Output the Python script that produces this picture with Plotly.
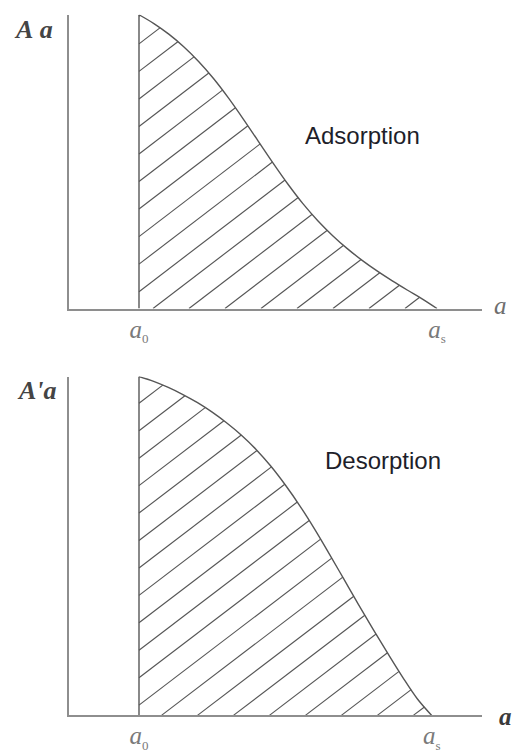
import numpy as np
import plotly.graph_objects as go

# Coverage a, normalised so that a0 = 0 and as = 1, with the curve height A
a_ads = [0.00, 0.05, 0.10, 0.15, 0.20, 0.25, 0.30, 0.35, 0.40, 0.45, 0.50,
         0.55, 0.60, 0.65, 0.70, 0.75, 0.80, 0.85, 0.90, 0.95, 1.00]
A_ads = [1.000, 0.970, 0.934, 0.891, 0.841, 0.783, 0.717, 0.645, 0.570, 0.495, 0.423,
         0.357, 0.299, 0.248, 0.203, 0.163, 0.127, 0.094, 0.063, 0.033, 0.000]

a_des = [0.00, 0.05, 0.10, 0.15, 0.20, 0.25, 0.30, 0.35, 0.40, 0.45, 0.50,
         0.55, 0.60, 0.65, 0.70, 0.75, 0.80, 0.85, 0.90, 0.95, 1.00]
A_des = [1.000, 0.986, 0.968, 0.947, 0.923, 0.895, 0.863, 0.827, 0.785, 0.736, 0.680,
         0.618, 0.550, 0.477, 0.402, 0.327, 0.254, 0.183, 0.114, 0.050, 0.000]

tick_vals = [0, 1]
tick_text = ["<i>a</i><sub><span style='font-size:13px'>0</span></sub>",
             "<i>a</i><sub><span style='font-size:13px'>s</span></sub>"]

W, H = 514, 753
CURVE = "#565656"
AXIS = "#8e8e8e"
SERIF = "Liberation Serif"
SANS = "Liberation Sans"


def hatch(a, A, slope, step, offset):
    """Parallel hatch segments from the base / left edge up to the curve."""
    grid = np.linspace(0.0, 1.0, 4001)
    top = np.interp(grid, a, A)
    xs, ys = [], []
    for k in range(-40, 40):
        c = offset + k * step
        if c >= 1:
            continue
        x0 = max(0.0, c)
        y0 = slope * (x0 - c)
        if y0 >= np.interp(x0, a, A):
            continue
        line = slope * (grid - c)
        hit = np.where((grid > x0) & (line >= top))[0]
        if len(hit) == 0:
            continue
        i = hit[0]
        xs += [x0, grid[i], None]
        ys += [y0, line[i], None]
    return xs, ys


fig = go.Figure()

panels = [
    # (a, A, axis suffix, hatch slope, hatch step, hatch offset)
    (a_ads, A_ads, "", 0.776, 0.1208, 0.047),
    (a_des, A_des, "2", 0.659, 0.1229, 0.0769),
]

for a, A, sfx, slope, step, off in panels:
    xr, yr = "x" + sfx, "y" + sfx
    hx, hy = hatch(a, A, slope, step, off)
    fig.add_trace(go.Scatter(x=hx, y=hy, mode="lines", xaxis=xr, yaxis=yr,
                             line=dict(color=CURVE, width=1.15), hoverinfo="skip"))
    fig.add_trace(go.Scatter(x=[0, 0], y=[0, A[0]], mode="lines", xaxis=xr, yaxis=yr,
                             line=dict(color=CURVE, width=1.4), hoverinfo="skip"))
    fig.add_trace(go.Scatter(x=a, y=A, mode="lines", xaxis=xr, yaxis=yr,
                             line=dict(color=CURVE, width=1.4, shape="spline", smoothing=1.0),
                             hoverinfo="skip"))


def xdom(l, r):
    return [l / W, r / W]


def ydom(b, t):
    return [1 - b / H, 1 - t / H]


common_x = dict(showline=True, linecolor=AXIS, linewidth=2, showgrid=False, zeroline=False,
                ticks="", tickvals=tick_vals, ticktext=tick_text, ticklabelstandoff=-3,
                tickfont=dict(family=SERIF, size=25, color="#7a7a7a"))
common_y = dict(showline=True, linecolor=AXIS, linewidth=2, showgrid=False, zeroline=False,
                ticks="", showticklabels=False, range=[0, 1])

fig.update_layout(
    width=W, height=H,
    margin=dict(l=0, r=0, t=0, b=0),
    paper_bgcolor="white", plot_bgcolor="white",
    showlegend=False,
    xaxis=dict(domain=xdom(69, 482), range=[-70 / 298, 343 / 298], anchor="y", **common_x),
    yaxis=dict(domain=ydom(313.5, 15), anchor="x", **common_y),
    xaxis2=dict(domain=xdom(69, 482), range=[-70 / 292.7, 343 / 292.7], anchor="y2", **common_x),
    yaxis2=dict(domain=ydom(727, 382.7), anchor="x2", **common_y),
)


def px(x, y):
    return dict(x=x / W, y=1 - y / H, xref="paper", yref="paper", showarrow=False,
                xanchor="center", yanchor="middle")


fig.add_annotation(text="<b><i>A&nbsp;a</i></b>", font=dict(family=SERIF, size=26, color="#444444"),
                   **px(33, 30))
fig.add_annotation(text="<b><i>A'a</i></b>", font=dict(family=SERIF, size=26, color="#444444"),
                   **px(37, 397))
fig.add_annotation(text="<i>a</i>", font=dict(family=SERIF, size=25, color="#6e6e6e"),
                   **px(500, 310))
fig.add_annotation(text="<b><i>a</i></b>", font=dict(family=SERIF, size=25, color="#3a3a3a"),
                   **px(505, 728))
fig.add_annotation(text="Adsorption", font=dict(family=SANS, size=24, color="#1e1e2a"),
                   **px(362, 138))
fig.add_annotation(text="Desorption", font=dict(family=SANS, size=24, color="#1e1e2a"),
                   **px(383, 468))

fig.write_html("out.html")
